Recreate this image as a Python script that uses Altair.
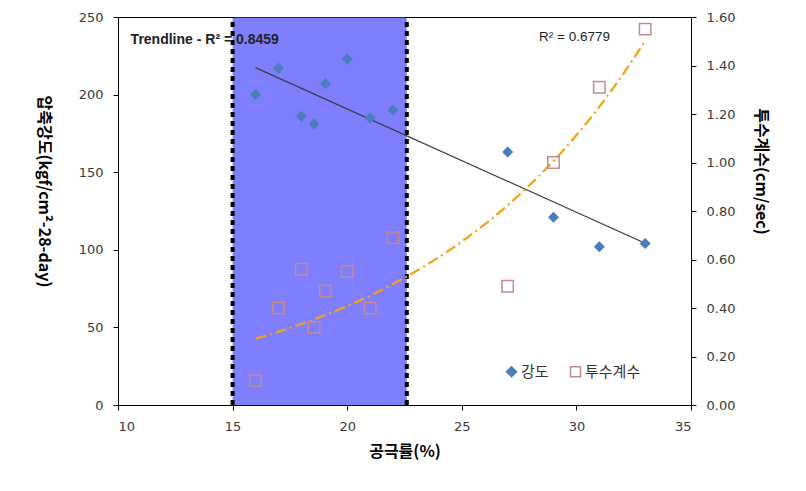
import altair as alt
import numpy as np
import pandas as pd

# ---- data ----
porosity = [16.0, 17.0, 18.0, 18.55, 19.05, 20.0, 21.0, 22.0, 27.0, 29.0, 31.0, 33.0]
strength = [200, 217, 186, 181, 207, 223, 185, 190, 163, 121, 102, 104]
permeability = [0.10, 0.40, 0.56, 0.32, 0.47, 0.55, 0.40, 0.69, 0.49, 1.00, 1.31, 1.55]
series_names = ["강도", "투수계수"]
region = [15.0, 22.6]
x_ticks = [10, 15, 20, 25, 30, 35]
left_ticks = [0, 50, 100, 150, 200, 250]
right_ticks = [0.0, 0.2, 0.4, 0.6, 0.8, 1.0, 1.2, 1.4, 1.6]
r2_strength = "Trendline - R² = 0.8459"
r2_perm = "R² = 0.6779"

df_s = pd.DataFrame({"x": porosity, "y": strength, "series": series_names[0]})
df_p = pd.DataFrame({"x": porosity, "y": permeability, "series": series_names[1]})
df_region = pd.DataFrame({"x0": [region[0]], "x1": [region[1]]})
df_edges = pd.DataFrame({"x": region})

# exponential trendline (Excel-style least squares on log y)
b, a = np.polyfit(np.array(porosity), np.log(np.array(permeability)), 1)
xs = np.linspace(min(porosity), max(porosity), 80)
df_fit = pd.DataFrame({"x": xs, "y": np.exp(a + b * xs)})

W, H = 573, 388
LABEL_FONT = "DejaVu Sans"
TITLE_FONT = "Noto Sans CJK KR"

xscale = alt.Scale(domain=[10, 35], nice=False, zero=False)
yL = alt.Scale(domain=[0, 250], nice=False)
yR = alt.Scale(domain=[0, 1.6], nice=False)

xaxis = alt.Axis(values=x_ticks, orient="bottom", title="공극률(%)", titleFont=TITLE_FONT, titleFontSize=16,
                 titleFontWeight="bold", titleColor="black", titlePadding=10,
                 labelPadding=10, format="d")
laxis = alt.Axis(values=left_ticks, orient="left", title="압축강도(kgf/cm²-28-day)",
                 titleFont=TITLE_FONT, titleFontSize=16, titleFontWeight="bold",
                 titleColor="black", titleAngle=90, titleX=-75, titleY=174,
                 titleAlign="center", titleBaseline="middle", labelPadding=10, format="d")
raxis = alt.Axis(values=right_ticks, orient="right", title="투수계수(cm/sec)",
                 titleFont=TITLE_FONT, titleFontSize=16, titleFontWeight="bold",
                 titleColor="black", titleAngle=90, titleX=69, titleY=154,
                 titleAlign="center", titleBaseline="middle", labelPadding=10, format=".2f")

legend = alt.Legend(title=None, orient="none", legendX=386, legendY=347, direction="horizontal",
                    labelFont=TITLE_FONT, labelFontSize=15, labelColor="#333333",
                    symbolSize=100, symbolStrokeWidth=1.5, labelOffset=2, columnPadding=18,
                    padding=0)

shape_enc = alt.Shape("series:N", scale=alt.Scale(domain=series_names, range=["diamond", "square"]), legend=legend)
fill_enc = alt.Fill("series:N", scale=alt.Scale(domain=series_names, range=["#4A7EBB", "transparent"]), legend=legend)
stroke_enc = alt.Stroke("series:N", scale=alt.Scale(domain=series_names, range=["#4A7EBB", "#C48A8E"]), legend=legend)

# ---- left (strength) group ----
rect = alt.Chart(df_region).mark_rect(color="#2020ff", opacity=0.58).encode(
    x=alt.X("x0:Q", scale=xscale, axis=xaxis),
    x2="x1:Q",
    y=alt.Y(datum=0, scale=yL, axis=laxis),
    y2=alt.Y2(datum=250),
)
edges = alt.Chart(df_edges).mark_rule(color="black", strokeWidth=4, strokeDash=[5, 4]).encode(
    x=alt.X("x:Q", scale=xscale, axis=xaxis),
    y=alt.Y(datum=0, scale=yL, axis=laxis),
    y2=alt.Y2(datum=250),
)
lin = alt.Chart(df_s).transform_regression("x", "y").mark_line(color="#3a3a3a", strokeWidth=1.2).encode(
    x=alt.X("x:Q", scale=xscale, axis=xaxis),
    y=alt.Y("y:Q", scale=yL, axis=laxis),
)
pts_s = alt.Chart(df_s).mark_point(size=80, strokeWidth=1.5, opacity=1).encode(
    x=alt.X("x:Q", scale=xscale, axis=xaxis),
    y=alt.Y("y:Q", scale=yL, axis=laxis),
    shape=shape_enc, fill=fill_enc, stroke=stroke_enc,
)
txt_s = alt.Chart(pd.DataFrame({"t": [r2_strength]})).mark_text(
    align="left", baseline="middle", font="Liberation Sans", fontSize=14, fontWeight="bold", color="#222222"
).encode(
    x=alt.X(datum=10.55, scale=xscale, axis=xaxis),
    y=alt.Y(datum=235, scale=yL, axis=laxis),
    text="t:N",
)
left = alt.layer(rect, edges, lin, pts_s, txt_s)

# ---- right (permeability) group ----
pts_p = alt.Chart(df_p).mark_point(size=130, strokeWidth=1.5, opacity=1).encode(
    x=alt.X("x:Q", scale=xscale, axis=xaxis),
    y=alt.Y("y:Q", scale=yR, axis=raxis),
    shape=shape_enc, fill=fill_enc, stroke=stroke_enc,
)
expl = alt.Chart(df_fit).mark_line(color="#F5A214", strokeWidth=2.2, strokeDash=[11, 4, 2, 4]).encode(
    x=alt.X("x:Q", scale=xscale, axis=xaxis),
    y=alt.Y("y:Q", scale=yR, axis=raxis),
)
txt_p = alt.Chart(pd.DataFrame({"t": [r2_perm]})).mark_text(
    align="left", baseline="middle", font="Liberation Sans", fontSize=13.5, color="#222222"
).encode(
    x=alt.X(datum=28.37, scale=xscale, axis=xaxis),
    y=alt.Y(datum=1.517, scale=yR, axis=raxis),
    text="t:N",
)
right = alt.layer(expl, pts_p, txt_p)

chart = alt.layer(left, right).resolve_scale(y="independent").properties(
    width=W, height=H,
    padding={"left": 118, "top": 17, "right": 115, "bottom": 86},
    autosize=alt.AutoSizeParams(type="none"),
    background="white",
).configure_view(stroke="black", strokeWidth=1).configure_axis(
    grid=False, domainColor="black", tickColor="black", tickSize=5,
    labelFont=LABEL_FONT, labelFontSize=13, labelColor="#3a3a3a",
)

chart.save("out.html", embed_options={"renderer": "svg", "actions": False})
